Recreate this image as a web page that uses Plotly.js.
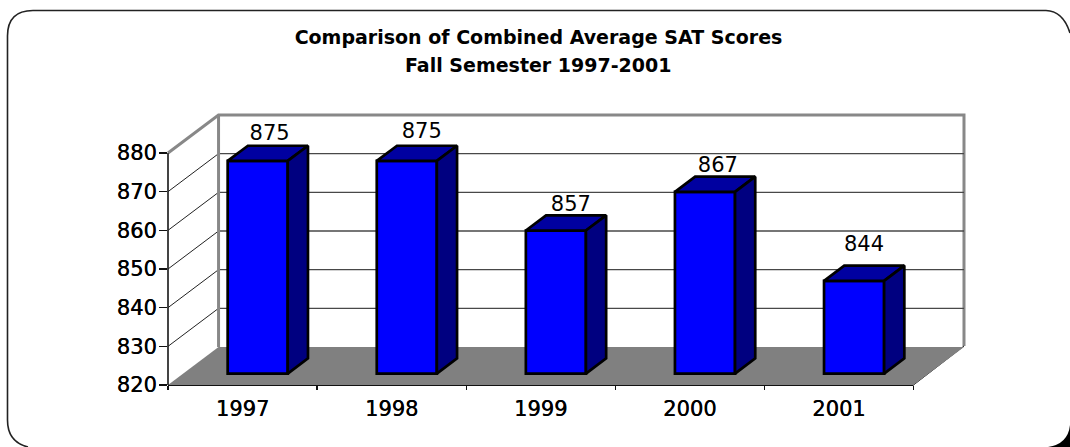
<!DOCTYPE html>
<html>
<head>
<meta charset="utf-8">
<script src="https://cdn.plot.ly/plotly-3.0.1.min.js"></script>
<style>html,body{margin:0;padding:0;background:#fff;overflow:hidden}</style>
</head>
<body>
<div id="chart" style="width:1070px;height:447px"></div>
<script>
const years = ['1997', '1998', '1999', '2000', '2001'];
const scores = [875, 875, 857, 867, 844];
const yTicks = [820, 830, 840, 850, 860, 870, 880];
const titleLines = ['Comparison of Combined Average SAT Scores', 'Fall Semester 1997-2001'];

const W = 1070, H = 447;
const FONT = '"DejaVu Sans", Verdana, sans-serif';
const HEAVY = '0.35px 0 0 #000';
// oblique projection: how far the full depth of the box shifts, in axis units
const DX = 0.339, DY = 9.83;
const YMIN = yTicks[0], YMAX = yTicks[yTicks.length - 1];
const N = years.length;
const BAR_W = 0.403, D0 = 0.3, D1 = 0.7;
const PX_PER_CAT = 149.1, PX_PER_UNIT = 3.867;
// hand placement of the value labels relative to their bars, in pixels (right, up)
const labelShift = [[0, 0], [3, 2], [3, -1], [1, -1], [-2, 9]];

const px = x => x / W, py = y => 1 - y / H;
const path = s => s.replace(/(-?[\d.]+),(-?[\d.]+)/g, (m, a, b) => px(+a).toFixed(5) + ',' + py(+b).toFixed(5));

const shapes = [];
const poly = (pts, fill) => shapes.push({
  type: 'path', xref: 'x', yref: 'y', layer: 'below',
  path: 'M' + pts.map(p => p.join(',')).join('L') + 'Z',
  fillcolor: fill, line: {color: 'rgba(0,0,0,0)', width: 0}
});
const seg = (x0, y0, x1, y1, color, width) => shapes.push({
  type: 'line', xref: 'x', yref: 'y', layer: 'below', x0, y0, x1, y1, line: {color, width}
});
// lines on the plot border: referenced to the page so they are not cut in half by the plot clip
const borderLine = (d, color, width) => shapes.push({
  type: 'path', xref: 'paper', yref: 'paper', layer: 'below', path: path(d), line: {color, width}
});

// floor
poly([[0, YMIN], [DX, YMIN + DY], [N + DX, YMIN + DY], [N, YMIN]], '#808080');
// grid on both walls
yTicks.slice(1, -1).forEach(t => {
  seg(0, t, DX, t + DY, '#222222', 1);
  seg(DX, t + DY, N + DX, t + DY, '#484848', 1.3);
});
seg(DX, YMIN + DY, DX, YMAX + DY, '#888888', 3);

// outline of the box
borderLine('M168,153 L218.5,115 L964,115 L964,346', '#888888', 3);
borderLine('M168,153 L168,385', '#444444', 2);
borderLine('M168,385 L913.5,385', '#111111', 1.8);
borderLine('M913.5,385 L964,346', '#111111', 1);

// rounded frame, running off the page on the right and at the bottom
borderLine('M28,447 Q7.5,442 7.5,420 L7.5,36 Q7.5,10.5 33,10.5 L1046,10.5 Q1063,11 1070,33', '#222222', 1.6);
shapes.push({
  type: 'path', xref: 'paper', yref: 'paper', layer: 'below',
  path: path('M1070,425 Q1068,444 1048,447 L1070,447 Z'),
  fillcolor: '#000000', line: {color: '#000000', width: 0}
});

const cx = i => i + 0.5 + D0 * DX;       // centre of a bar's front face
const lift = D0 * DY;                    // how far the front face stands above the axis plane
const depX = (D1 - D0) * DX, depY = (D1 - D0) * DY;

const faceTrace = (xs, ys, color) => ({
  type: 'scatter', mode: 'lines', x: xs, y: ys, fill: 'toself', fillcolor: color,
  line: {color: '#000000', width: 2.7}, hoverinfo: 'skip', showlegend: false
});

const traces = [{
  type: 'bar', x: years.map((_, i) => cx(i)), y: scores.map(v => v - YMIN),
  base: scores.map(() => YMIN + lift), width: BAR_W,
  marker: {color: '#0000ff', line: {color: '#000000', width: 2.7}},
  hoverinfo: 'skip', showlegend: false
}];
scores.forEach((v, i) => {
  const l = cx(i) - BAR_W / 2, r = cx(i) + BAR_W / 2, t = v + lift, b = YMIN + lift;
  traces.push(faceTrace([l, r, r + depX, l + depX, l], [t, t, t + depY, t + depY, t], '#0000a0'));
  traces.push(faceTrace([r, r + depX, r + depX, r, r], [t, t + depY, b + depY, b, t], '#000080'));
});
traces.push({
  type: 'scatter', mode: 'text',
  x: scores.map((_, i) => cx(i) + 0.08 + labelShift[i][0] / PX_PER_CAT),
  y: scores.map((v, i) => v + lift + depY + labelShift[i][1] / PX_PER_UNIT),
  text: scores.map(String), textposition: 'top center',
  textfont: {family: FONT, size: 21, color: '#000000'}, hoverinfo: 'skip', showlegend: false, cliponaxis: false
});

Plotly.newPlot('chart', traces, {
  width: W, height: H, margin: {l: 0, r: 0, t: 0, b: 0}, showlegend: false,
  paper_bgcolor: '#ffffff', plot_bgcolor: 'rgba(0,0,0,0)',
  title: {
    text: titleLines[0], x: 538.5 / W, xanchor: 'center', y: 1 - 37 / H, yanchor: 'middle',
    font: {family: FONT, size: 19, color: '#000000', weight: 700}
  },
  annotations: [{
    text: titleLines[1], xref: 'paper', yref: 'paper', x: 538.5 / W, y: 1 - 65 / H,
    xanchor: 'center', yanchor: 'middle', showarrow: false,
    font: {family: FONT, size: 19, color: '#000000', weight: 700}
  }],
  xaxis: {
    domain: [168 / W, 964 / W], range: [0, N + DX], fixedrange: true, showgrid: false, zeroline: false, showline: false,
    tickmode: 'array', tickvals: years.map((_, i) => i + 0.5), ticktext: years,
    ticks: 'outside', ticklen: 5, tickwidth: 0, tickcolor: 'rgba(0,0,0,0)',
    tickfont: {family: FONT, size: 21, color: '#000000', shadow: HEAVY},
    minor: {tickmode: 'array', tickvals: years.map((_, i) => i).concat([N]), ticks: 'outside', ticklen: 4, tickwidth: 1.2, tickcolor: '#111111', showgrid: false}
  },
  yaxis: {
    domain: [1 - 385 / H, 1 - 115 / H], range: [YMIN, YMAX + DY], fixedrange: true, showgrid: false, zeroline: false, showline: false,
    tickmode: 'array', tickvals: yTicks, ticks: 'outside', ticklen: 8, tickwidth: 1.4, tickcolor: '#111111',
    ticklabelstandoff: -2,
    tickfont: {family: FONT, size: 21, color: '#000000', shadow: HEAVY}
  },
  shapes: shapes
}, {displayModeBar: false, staticPlot: true});
</script>
</body>
</html>
